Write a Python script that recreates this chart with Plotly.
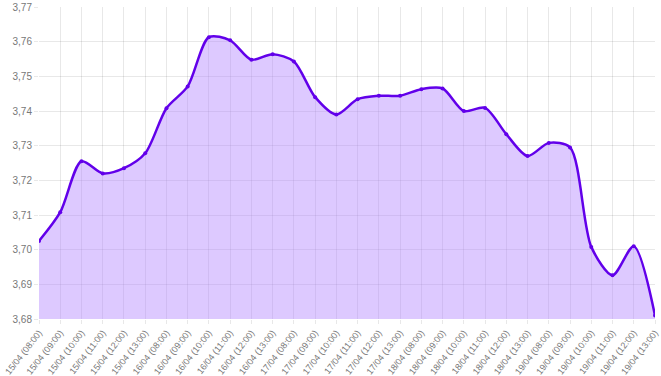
import plotly.graph_objects as go

days = ["15/04", "16/04", "17/04", "18/04", "19/04"]
hours = ["08:00", "09:00", "10:00", "11:00", "12:00", "13:00"]
labels = [f"{d} ({h})" for d in days for h in hours]

values = [3.7025, 3.7108, 3.7255, 3.7220, 3.7235, 3.7278,
          3.7408, 3.7471, 3.7613, 3.7604, 3.7548, 3.7564,
          3.7543, 3.7440, 3.7390, 3.7434, 3.7444, 3.7444,
          3.7463, 3.7465, 3.7400, 3.7409, 3.7333, 3.7270,
          3.7308, 3.7295, 3.7008, 3.6926, 3.7010, 3.6810]

y_ticks = [3.68, 3.69, 3.70, 3.71, 3.72, 3.73, 3.74, 3.75, 3.76, 3.77]

fig = go.Figure()
fig.add_trace(go.Scatter(
    x=list(range(len(labels))), y=values,
    mode="lines+markers",
    line=dict(color="#6200ea", width=2.5, shape="spline", smoothing=0.8),
    marker=dict(size=4, color="#6200ea"),
    fill="tozeroy", fillcolor="rgba(179,136,255,0.45)",
    hoverinfo="x+y",
))

fig.update_layout(
    width=661, height=376,
    margin=dict(l=39, r=6, t=7, b=57),
    paper_bgcolor="white", plot_bgcolor="white",
    separators=",.",
    showlegend=False,
    font=dict(family="Liberation Sans, Arial, sans-serif", color="#666666"),
)
fig.update_xaxes(
    range=[0, len(labels) - 1],
    tickmode="array", tickvals=list(range(len(labels))), ticktext=labels,
    tickangle=-52, tickfont=dict(size=9, color="#777777"),
    showgrid=True, gridcolor="rgba(0,0,0,0.09)", gridwidth=1,
    ticks="outside", ticklen=4, tickcolor="rgba(0,0,0,0.09)",
    zeroline=False, showline=False, automargin=False,
)
fig.update_yaxes(
    range=[3.68, 3.77],
    tickmode="array", tickvals=y_ticks,
    ticktext=[f"{v:.2f}".replace(".", ",") for v in y_ticks],
    tickfont=dict(size=10, color="#777777"),
    showgrid=True, gridcolor="rgba(0,0,0,0.09)", gridwidth=1,
    ticks="outside", ticklen=4, tickcolor="rgba(0,0,0,0.09)",
    zeroline=False, showline=False, automargin=False,
)

fig.write_html("out.html")
